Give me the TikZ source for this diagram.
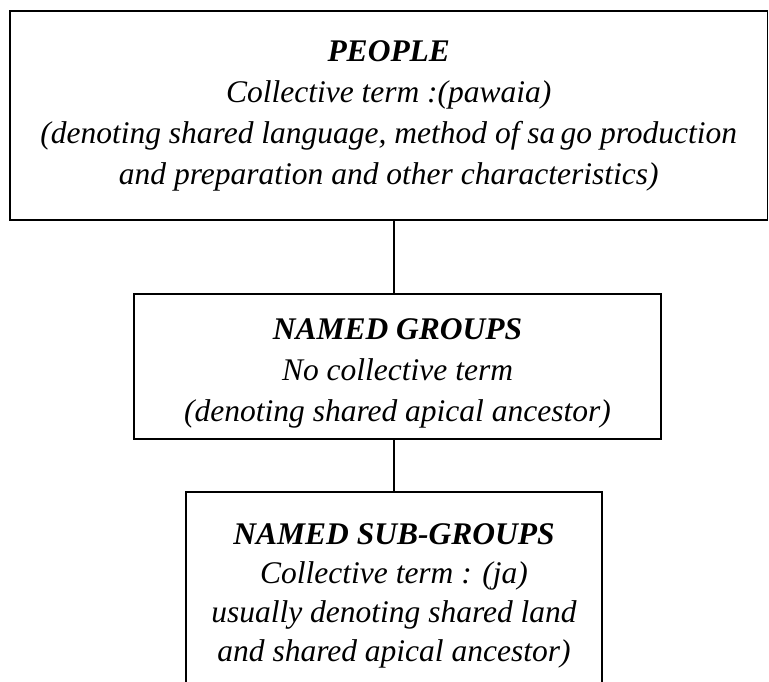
\documentclass[tikz,border=0pt]{standalone}
\usepackage{fontspec}
\setmainfont{Liberation Serif}
\begin{document}
\begin{tikzpicture}[x=1pt,y=1pt,
    level/.style={draw,line width=1.3pt,inner sep=0pt,align=center,
      font=\fontsize{31.5}{41}\selectfont\itshape}]
  \useasboundingbox (0,0) rectangle (769,681);
  \draw
    (388.75,565.5) node[level,minimum width=757.5pt,minimum height=209pt] (people)
      {\textbf{PEOPLE}\\Collective term :(pawaia)\\(denoting shared language, method of sa\,go production\\and preparation and other characteristics)}
    (397.5,314.5) node[level,minimum width=527pt,minimum height=145pt] (groups)
      {\rule{0pt}{34pt}\textbf{NAMED GROUPS}\\No collective term\\(denoting shared apical ancestor)}
    (394,85) node[level,minimum width=416pt,minimum height=208pt,
      font=\fontsize{31.5}{39}\selectfont\itshape] (subgroups)
      {\textbf{NAMED SUB-GROUPS}\\Collective term : (ja)\\usually denoting shared land\\and shared apical ancestor)};
  \begin{scope}[-,line width=2pt]
    \draw (people.south -| subgroups.north) to (groups.north -| subgroups.north);
    \draw (groups.south -| subgroups.north) to (subgroups.north);
  \end{scope}
\end{tikzpicture}
\end{document}
